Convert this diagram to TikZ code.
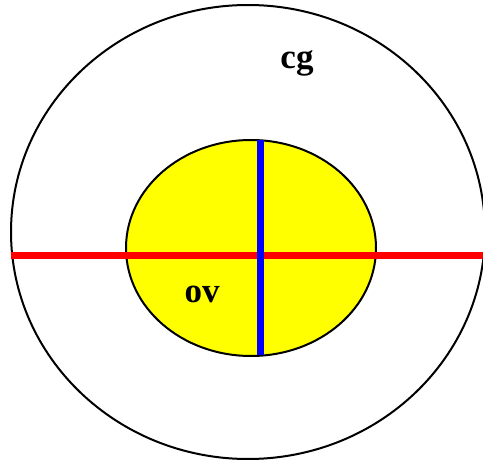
\documentclass[tikz,border=0pt]{standalone}
\usepackage{fontspec}
\setmainfont{Liberation Serif}
\definecolor{ovyellow}{RGB}{255,255,0}
\definecolor{axred}{RGB}{255,0,0}
\definecolor{axblue}{RGB}{0,0,255}
\begin{document}
\begin{tikzpicture}[x=1pt, y=-1pt,
  rim/.style={draw=black, line width=2pt},
  lbl/.style={font=\fontsize{35}{40}\selectfont\bfseries, anchor=base, inner sep=0pt}]
  \useasboundingbox (0,0) rectangle (483,460);
  % ---- outer and inner ellipses ----
  \draw[rim] (248,232) ellipse [x radius=237, y radius=227];
  \draw[rim, fill=ovyellow] (251,248) ellipse [x radius=125, y radius=108];
  % ---- axes ----
  \coordinate (redL) at (11,255.5);
  \coordinate (redR) at (483,255.5);
  \coordinate (blueT) at (260.5,140);
  \coordinate (blueB) at (260.5,355);
  \draw[axred, line width=7pt] (redL) -- (redR);
  \draw[axblue, line width=7pt] (blueT) -- (blueB);
  % ---- labels ----
  \node[lbl] (cg) at (297,69) {cg};
  \node[lbl] (ov) at (202,302) {ov};
\end{tikzpicture}
\end{document}
